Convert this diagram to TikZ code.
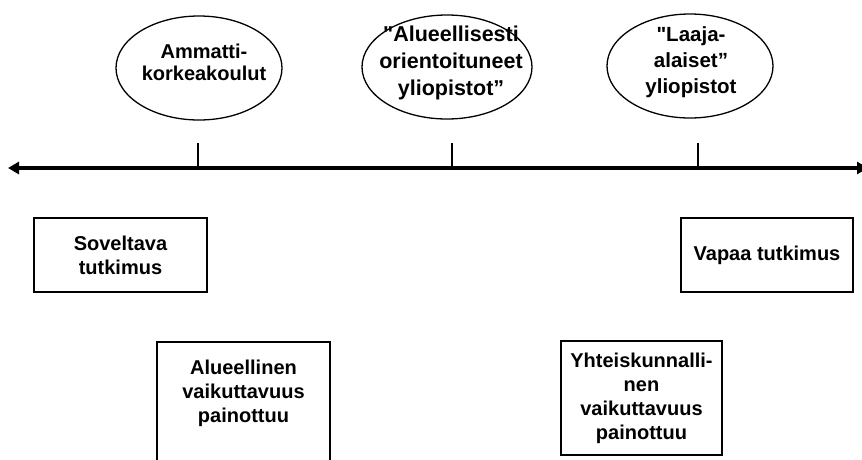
\documentclass[tikz,border=0pt]{standalone}
\usepackage{fontspec}
\setmainfont{Liberation Sans}[Ligatures=TeXOff]
\usetikzlibrary{shapes.geometric,arrows.meta}
\begin{document}
\begin{tikzpicture}[x=1pt,y=-1pt,
  txt/.style={font=\bfseries\fontsize{20}{24}\selectfont, align=center, inner sep=0pt},
  oval/.style={draw=black, line width=1.3pt, ellipse, minimum width=166pt, minimum height=104pt},
  rbox/.style={txt, draw=black, line width=2pt, rectangle},
  tick/.style={line width=2.6pt},
  axis/.style={line width=4.5pt, {Triangle[length=11pt,width=12pt]}-{Triangle[length=11pt,width=12pt]}}
]
\useasboundingbox (0,0) rectangle (862,459);
% ellipses
\node[oval] (amk) at (199,68) {};
\node[txt, font=\bfseries\fontsize{20}{22}\selectfont] (amkT) at (204,62) {Ammatti-\\korkeakoulut};
\node[oval, minimum width=170pt] (alu) at (447,67) {};
\node[txt, font=\bfseries\fontsize{21.5}{27}\selectfont] (aluT) at (451,63) {"Alueellisesti\\orientoituneet\\yliopistot”};
\node[oval] (laa) at (690,66) {};
\node[txt, font=\bfseries\fontsize{20.5}{26}\selectfont] (laaT) at (691,62) {"Laaja-\\alaiset”\\yliopistot};
% axis
\coordinate (L) at (8,168);
\coordinate (R) at (868,168);
\draw[axis] (L) -- (R);
% ticks
\coordinate (t1a) at (198,143); \coordinate (t1b) at (198,168);
\coordinate (t2a) at (452,143); \coordinate (t2b) at (452,168);
\coordinate (t3a) at (698,143); \coordinate (t3b) at (698,168);
\draw[tick] (t1a) -- (t1b);
\draw[tick] (t2a) -- (t2b);
\draw[tick] (t3a) -- (t3b);
% boxes
\node[rbox, minimum width=173pt, minimum height=74pt] (sov) at (120.5,255) {Soveltava\\tutkimus};
\node[rbox, minimum width=172pt, minimum height=74pt] (vap) at (767,255) {Vapaa tutkimus};
\node[draw=black, line width=2pt, minimum width=173pt, minimum height=140pt, anchor=north] (alb) at (243.5,341) {};
\node[txt] (alt) at (243.5,393) {Alueellinen\\vaikuttavuus\\painottuu};
\node[rbox, minimum width=161pt, minimum height=114pt] (yht) at (641.5,398) {Yhteiskunnalli-\\nen\\vaikuttavuus\\painottuu};
\end{tikzpicture}
\end{document}
